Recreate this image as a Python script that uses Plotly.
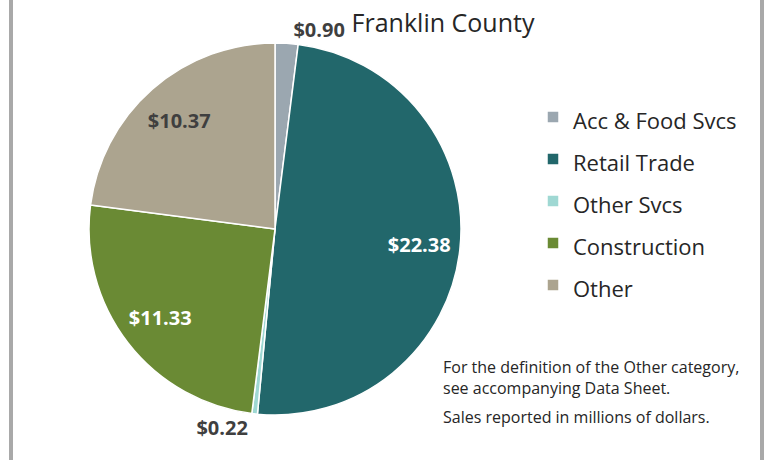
"""Franklin County sales by sector, as a pie chart with a side legend."""

import plotly.graph_objects as go

# Data (millions of dollars)
categories = ["Acc & Food Svcs", "Retail Trade", "Other Svcs", "Construction", "Other"]
sales = [0.90, 22.38, 0.22, 11.33, 10.37]
colors = ["#9ba7b0", "#22676b", "#9fd8d3", "#6a8a34", "#aca48f"]
label_inside = [False, True, False, True, True]
text_colors = ["#3f3f3f", "#ffffff", "#3f3f3f", "#ffffff", "#3f3f3f"]

W, H = 768, 460
FONT = "Open Sans"


def px(x):
    # screen x -> paper fraction
    return x / W


def py(y):
    # screen y (from top) -> paper fraction
    return 1 - y / H


# legend spacing is driven by the legend font size, so the text itself is sized in a span
legend_labels = [f'<span style="font-size:22px">{c}</span>' for c in categories]
pie_domain = dict(x=[px(89), px(461)], y=[py(415), py(43)])
label_font = dict(family=FONT, size=20, color=text_colors, weight="bold")

fig = go.Figure()

# the coloured pie, carrying the outside labels of the thin slices
fig.add_pie(
    labels=legend_labels,
    values=sales,
    sort=False,
    direction="clockwise",
    rotation=0,
    marker=dict(colors=colors, line=dict(color="white", width=1.5)),
    texttemplate="$%{value:.2f}",
    textposition=["none" if inside else "outside" for inside in label_inside],
    textfont=label_font,
    hoverinfo="skip",
    domain=pie_domain,
)

# a clear ring on top, so the inside labels sit out toward the rim
fig.add_pie(
    labels=legend_labels,
    values=sales,
    sort=False,
    direction="clockwise",
    rotation=0,
    hole=0.56,
    marker=dict(colors=["rgba(0,0,0,0)"] * len(sales), line=dict(width=0)),
    texttemplate="$%{value:.2f}",
    textposition=["inside" if inside else "none" for inside in label_inside],
    insidetextorientation="horizontal",
    textfont=label_font,
    hoverinfo="skip",
    showlegend=False,
    domain=pie_domain,
)

fig.update_layout(
    width=W,
    height=H,
    margin=dict(l=0, r=0, t=0, b=0),
    paper_bgcolor="white",
    font=dict(family=FONT, color="#262626"),
    title=dict(
        text="Franklin County",
        x=px(443),
        xanchor="center",
        y=py(23),
        yanchor="middle",
        font=dict(family=FONT, size=25, color="#262626"),
    ),
    legend=dict(
        x=px(533),
        y=py(91),
        xanchor="left",
        yanchor="top",
        font=dict(family=FONT, size=30, color="#262626"),
        bgcolor="rgba(0,0,0,0)",
    ),
    showlegend=True,
)

# notes in the lower right
notes = dict(xref="paper", yref="paper", xanchor="left", yanchor="top",
             align="left", showarrow=False,
             font=dict(family=FONT, size=16, color="#262626"))
fig.add_annotation(
    text="For the definition of the Other category,<br>see accompanying Data Sheet.",
    x=px(441), y=py(354), **notes,
)
fig.add_annotation(
    text="Sales reported in millions of dollars.",
    x=px(441), y=py(404), **notes,
)

# grey frame sides (top and bottom edges run off the picture)
fig.add_shape(
    type="rect", xref="paper", yref="paper",
    x0=px(11), x1=px(762), y0=-0.2, y1=1.2,
    line=dict(color="#a9a9a9", width=4), fillcolor="rgba(0,0,0,0)",
)

# drop the default page margin so the figure fills the window exactly
fig.write_html(
    "out.html",
    config={"displayModeBar": False},
    post_script="document.body.style.margin = '0';",
)
